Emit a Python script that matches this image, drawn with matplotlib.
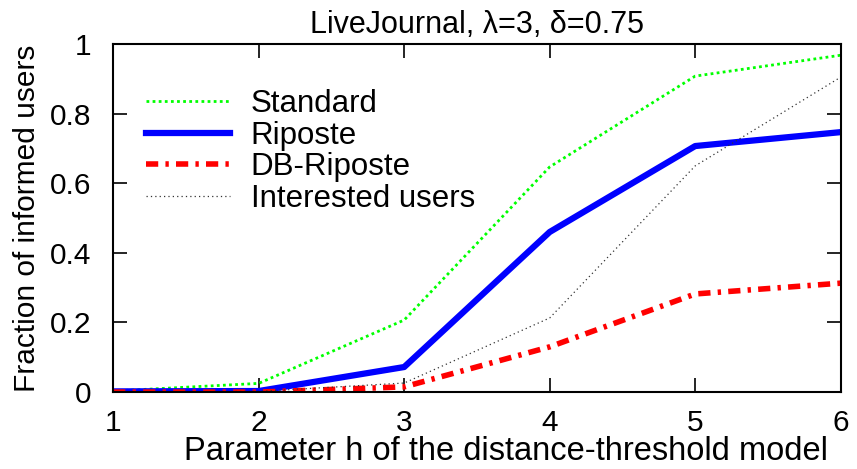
import matplotlib
matplotlib.use('Agg')
import matplotlib.pyplot as plt

plt.rcParams['font.family'] = ['Liberation Sans', 'DejaVu Sans']

# data
h_values = [1, 2, 3, 4, 5, 6]
standard = [0.003, 0.025, 0.207, 0.647, 0.908, 0.968]
riposte = [0.002, 0.003, 0.072, 0.46, 0.707, 0.747]
db_riposte = [0.0, 0.0, 0.015, 0.13, 0.282, 0.313]
interested = [0.0, 0.002, 0.026, 0.213, 0.65, 0.905]

fs = 21.5

fig = plt.figure(figsize=(8.57, 4.69), dpi=100)
ax = fig.add_axes([0.132, 0.164, 0.849, 0.742])

ax.plot(h_values, standard, color='#00ff00', linestyle=(0, (1, 1.2)), linewidth=2, label='Standard')
ax.plot(h_values, riposte, color='#0000ff', linestyle='-', linewidth=4.5, label='Riposte')
ax.plot(h_values, db_riposte, color='#ff0000', linestyle=(0, (2.2, 1.3, 0.6, 1.3)), linewidth=4, label='DB-Riposte')
ax.plot(h_values, interested, color='#333333', linestyle=(0, (1, 2.5)), linewidth=0.9, label='Interested users')

ax.set_xlim(1, 6)
ax.set_ylim(0, 1)
ax.set_xticks([1, 2, 3, 4, 5, 6])
ax.set_yticks([0, 0.2, 0.4, 0.6, 0.8, 1])
ax.set_yticklabels(['0', '0.2', '0.4', '0.6', '0.8', '1'])
ax.tick_params(direction='in', length=10, width=1.2, top=True, right=True, labelsize=fs)
ax.tick_params(axis='x', pad=12)
ax.tick_params(axis='y', pad=16)
for s in ax.spines.values():
    s.set_linewidth(1.5)

ax.set_xlabel('Parameter h of the distance-threshold model', fontsize=23.5)
ax.xaxis.set_label_coords(0.54, -0.194)
ax.xaxis.label.set_va('baseline')
ax.set_ylabel('Fraction of informed users', fontsize=fs, labelpad=6)
ax.set_title('LiveJournal, λ=3, δ=0.75', fontsize=22, pad=8)

ax.legend(loc='upper left', bbox_to_anchor=(0.045, 0.872), frameon=False, fontsize=22.5,
          handlelength=2.7, handletextpad=0.65, labelspacing=0.06, borderaxespad=0, borderpad=0)

fig.savefig('out.png', dpi=100)
